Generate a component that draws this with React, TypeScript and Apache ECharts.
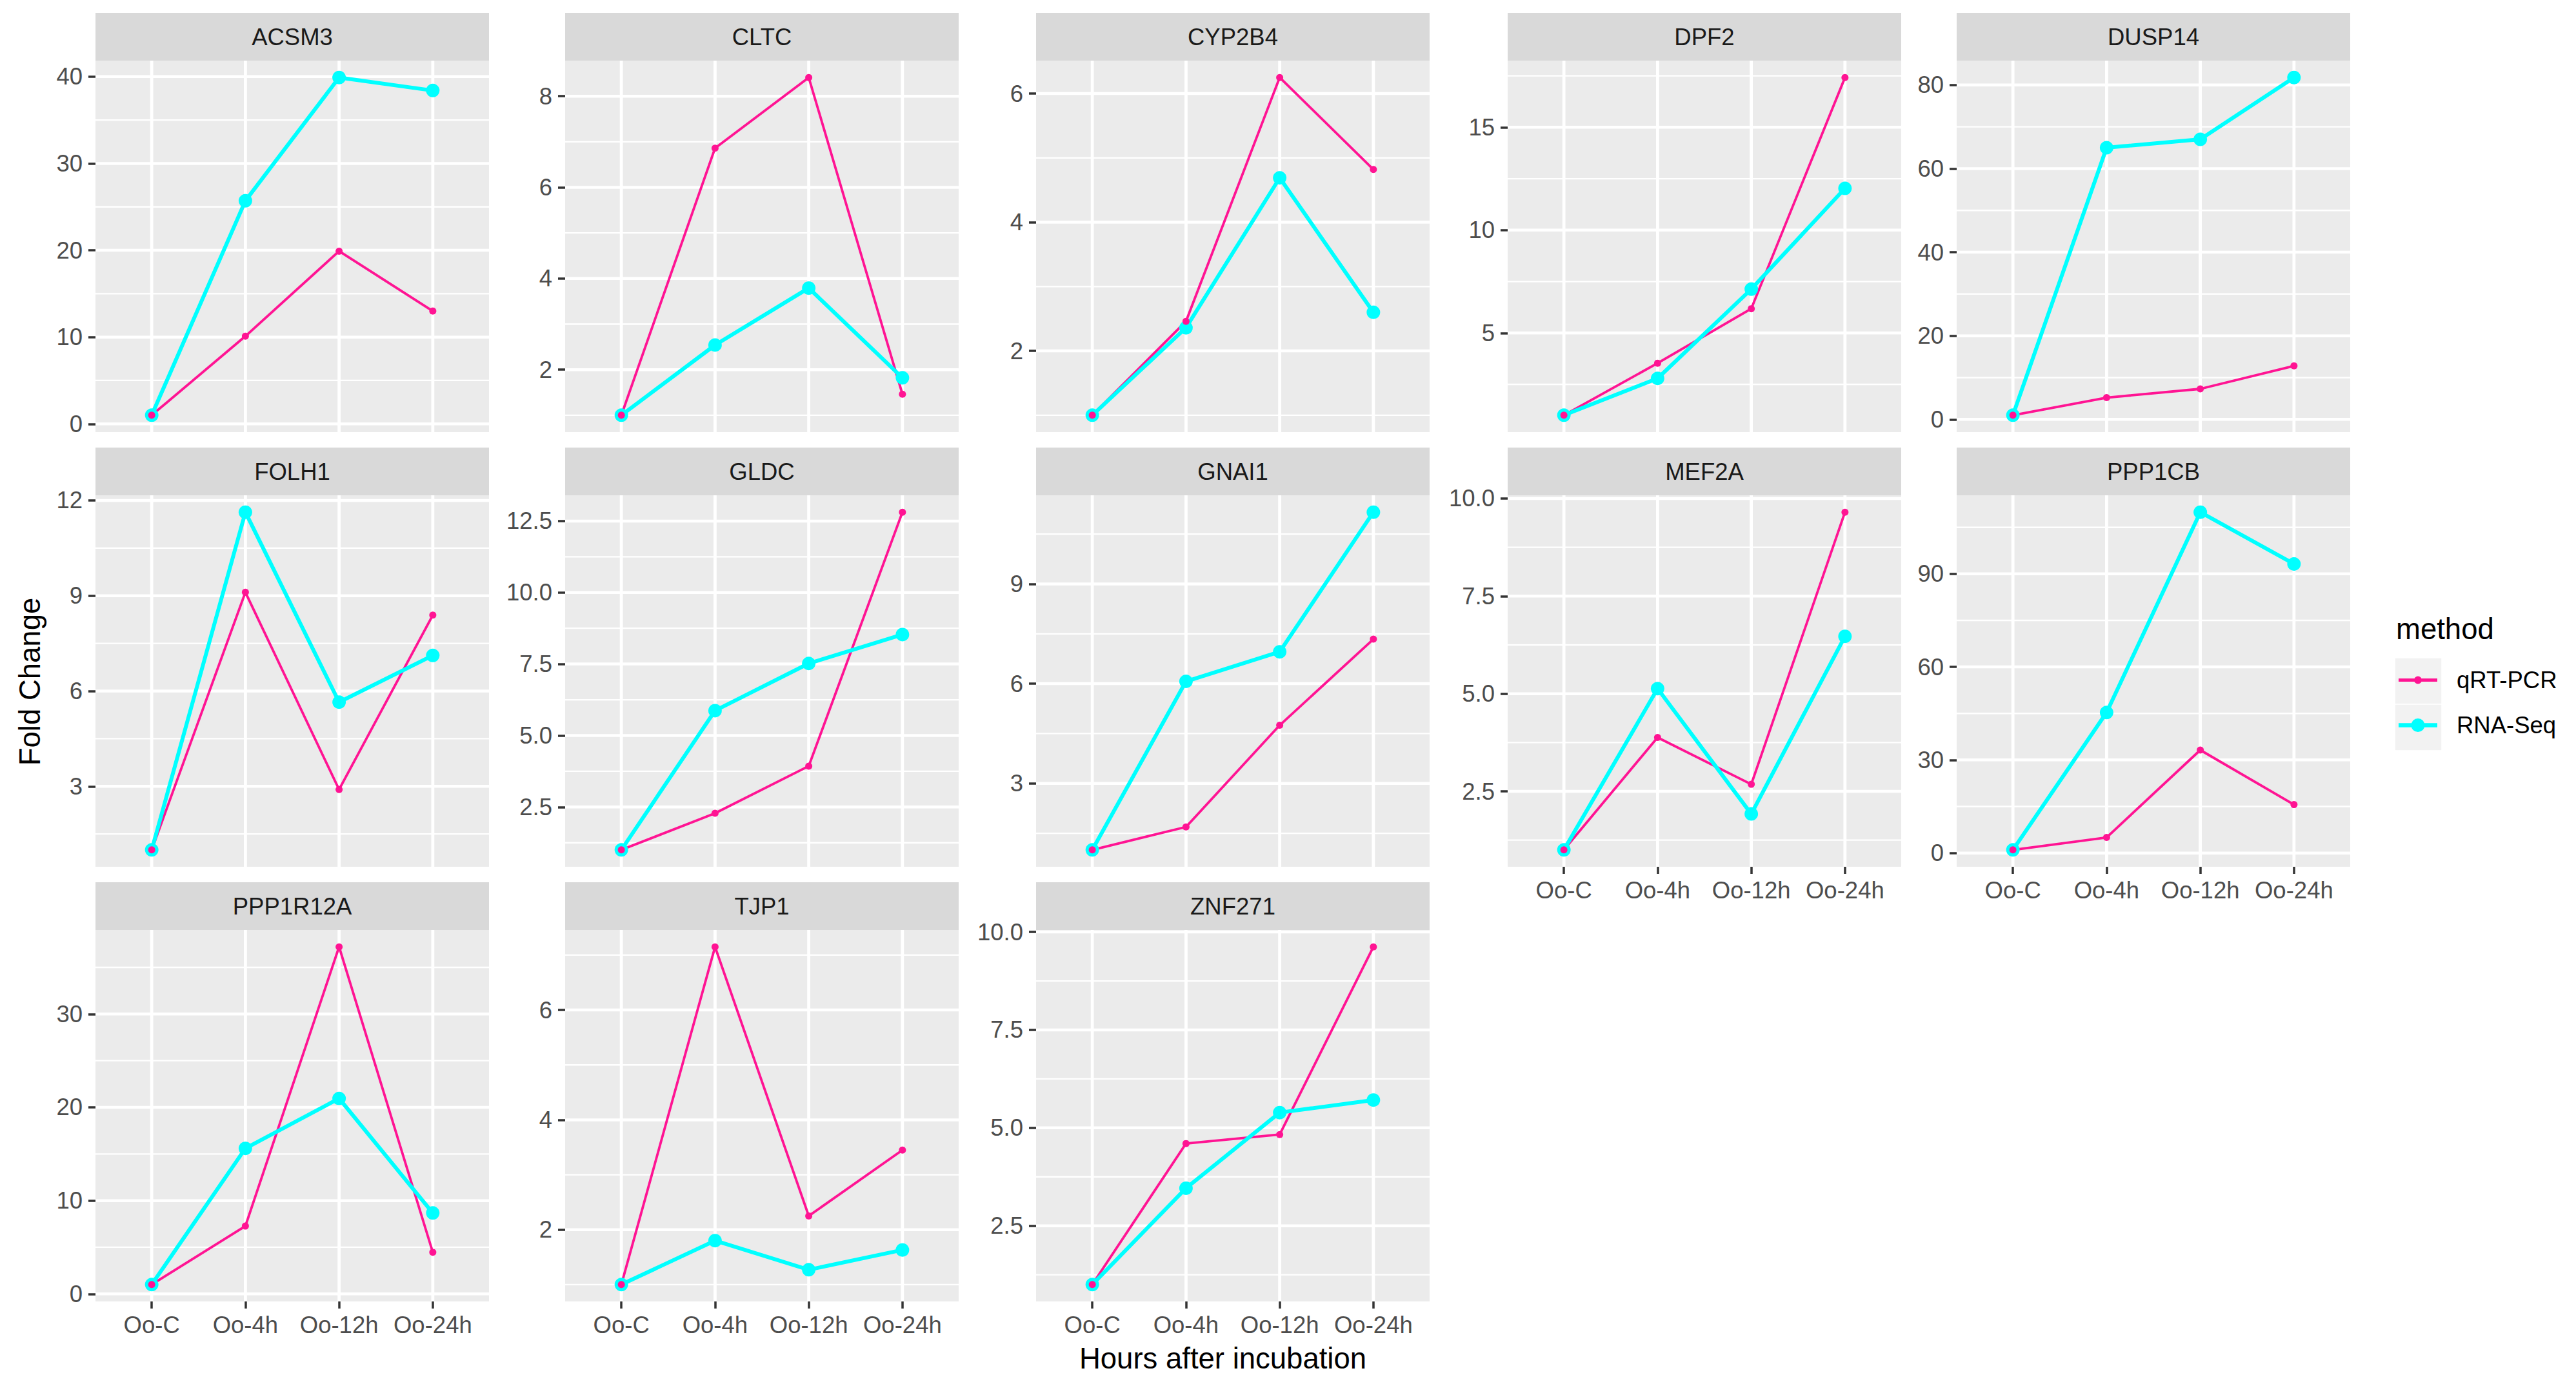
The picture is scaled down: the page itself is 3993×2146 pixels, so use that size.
import React, { useEffect, useRef } from 'react';
import * as echarts from 'echarts';

// ---------------- data ----------------
const timePoints = ['Oo-C', 'Oo-4h', 'Oo-12h', 'Oo-24h'];
const methods = ['qRT-PCR', 'RNA-Seq'];
const genes = ['ACSM3', 'CLTC', 'CYP2B4', 'DPF2', 'DUSP14', 'FOLH1', 'GLDC', 'GNAI1', 'MEF2A', 'PPP1CB', 'PPP1R12A', 'TJP1', 'ZNF271'];

const qrtPcrValues = [
  [1, 10.1, 19.9, 13.0],
  [1, 6.86, 8.41, 1.46],
  [1, 2.46, 6.25, 4.82],
  [1, 3.53, 6.18, 17.42],
  [1, 5.2, 7.3, 12.8],
  [1, 9.11, 2.9, 8.39],
  [1, 2.28, 3.93, 12.81],
  [1, 1.69, 4.75, 7.34],
  [1, 3.88, 2.68, 9.65],
  [1, 5.0, 33.2, 15.6],
  [1, 7.27, 37.2, 4.46],
  [1, 7.15, 2.25, 3.45],
  [1, 4.6, 4.83, 9.62],
];

const rnaSeqValues = [
  [1, 25.7, 39.9, 38.4],
  [1, 2.54, 3.79, 1.82],
  [1, 2.36, 4.69, 2.6],
  [1, 2.79, 7.13, 12.03],
  [1, 65.0, 67.0, 81.8],
  [1, 11.63, 5.65, 7.12],
  [1, 5.87, 7.52, 8.53],
  [1, 6.07, 6.96, 11.16],
  [1, 5.13, 1.92, 6.47],
  [1, 45.3, 109.9, 93.2],
  [1, 15.6, 20.95, 8.67],
  [1, 1.8, 1.27, 1.63],
  [1, 3.46, 5.39, 5.71],
];

const yBreaks = [
  [0, 10, 20, 30, 40],
  [2, 4, 6, 8],
  [2, 4, 6],
  [5, 10, 15],
  [0, 20, 40, 60, 80],
  [3, 6, 9, 12],
  [2.5, 5, 7.5, 10, 12.5],
  [3, 6, 9],
  [2.5, 5, 7.5, 10],
  [0, 30, 60, 90],
  [0, 10, 20, 30],
  [2, 4, 6],
  [2.5, 5, 7.5, 10],
];

const xTitle = 'Hours after incubation';
const yTitle = 'Fold Change';
const legendTitle = 'method';

// ---------------- layout / style ----------------
const W = 3993;
const H = 2146;
const FONT = "'Liberation Sans', Arial, Helvetica, sans-serif";
const COL_LEFT = [148, 876, 1606, 2337, 3033];
const ROW_TOP = [20, 694, 1368];
const STRIP_H = 74;
const PANEL_W = 610;
const PANEL_H = 576;
const X_MIN = -0.6;
const X_MAX = 3.6;
const PINK = '#FF1493';
const CYAN = '#00FFFF';
const TICK_FS = 36.5;
const TITLE_FS = 45.5;

function yRange(i: number): [number, number] {
  const all = [...qrtPcrValues[i], ...rnaSeqValues[i]];
  const lo = Math.min(...all);
  const hi = Math.max(...all);
  const pad = (hi - lo) * 0.05;
  return [lo - pad, hi + pad];
}

function minorBreaks(b: number[], lo: number, hi: number): number[] {
  const step = b[1] - b[0];
  const res: number[] = [];
  for (let k = -1; k < b.length; k++) {
    const v = b[0] + step * (k + 0.5);
    if (v > lo && v < hi) res.push(v);
  }
  return res;
}

function buildOption() {
  const grid: any[] = [];
  const xAxis: any[] = [];
  const yAxis: any[] = [];
  const series: any[] = [];
  const graphic: any[] = [];

  genes.forEach((gene, i) => {
    const row = Math.floor(i / 5);
    const col = i % 5;
    const left = COL_LEFT[col];
    const stripTop = ROW_TOP[row];
    const top = stripTop + STRIP_H;
    const showX = i >= genes.length - 5;
    const [lo, hi] = yRange(i);
    const breaks = yBreaks[i];
    const decimals = breaks.some((b) => Math.round(b) !== b) ? 1 : 0;

    grid.push({
      left,
      top,
      width: PANEL_W,
      height: PANEL_H,
      show: true,
      backgroundColor: '#EBEBEB',
      borderWidth: 0,
    });

    xAxis.push({
      type: 'value',
      gridIndex: i,
      min: X_MIN,
      max: X_MAX,
      axisLine: { show: false, onZero: false },
      splitLine: { show: false },
      axisTick: {
        show: showX,
        customValues: [0, 1, 2, 3],
        length: 11,
        lineStyle: { color: '#333333', width: 3.5 },
      },
      axisLabel: {
        show: showX,
        customValues: [0, 1, 2, 3],
        formatter: (v: number) => timePoints[Math.round(v)] ?? '',
        margin: 18,
        fontSize: TICK_FS,
        lineHeight: TICK_FS,
        color: '#4D4D4D',
        fontFamily: FONT,
      },
    });

    yAxis.push({
      type: 'value',
      gridIndex: i,
      min: lo,
      max: hi,
      axisLine: { show: false, onZero: false },
      splitLine: { show: false },
      axisTick: {
        show: true,
        customValues: breaks,
        length: 11,
        lineStyle: { color: '#333333', width: 3.5 },
      },
      axisLabel: {
        show: true,
        customValues: breaks,
        formatter: (v: number) => v.toFixed(decimals),
        margin: 20,
        fontSize: TICK_FS,
        color: '#4D4D4D',
        fontFamily: FONT,
      },
    });

    // panel grid lines (drawn through the axes' scales)
    const gridLines: number[][] = [];
    minorBreaks(breaks, lo, hi).forEach((v) => gridLines.push([0, v, 2.3]));
    breaks.forEach((v) => gridLines.push([0, v, 4.5]));
    timePoints.forEach((_, k) => gridLines.push([1, k, 4.8]));

    series.push({
      type: 'custom',
      name: '_grid' + i,
      xAxisIndex: i,
      yAxisIndex: i,
      z: 1,
      silent: true,
      data: gridLines,
      renderItem: (_params: any, api: any) => {
        const o = api.value(0);
        const v = api.value(1);
        const w = api.value(2);
        let p1;
        let p2;
        if (o === 0) {
          p1 = api.coord([X_MIN, v]);
          p2 = api.coord([X_MAX, v]);
        } else {
          p1 = api.coord([v, lo]);
          p2 = api.coord([v, hi]);
        }
        return {
          type: 'line',
          shape: { x1: p1[0], y1: p1[1], x2: p2[0], y2: p2[1] },
          style: { stroke: '#FFFFFF', lineWidth: w },
        };
      },
    });

    const pinkData = qrtPcrValues[i].map((v, k) => [k, v]);
    const cyanData = rnaSeqValues[i].map((v, k) => [k, v]);

    series.push({
      type: 'line',
      name: methods[0],
      xAxisIndex: i,
      yAxisIndex: i,
      data: pinkData,
      showSymbol: false,
      symbol: 'none',
      z: 2,
      lineStyle: { color: PINK, width: 3.8 },
      itemStyle: { color: PINK },
    });
    series.push({
      type: 'line',
      name: methods[1],
      xAxisIndex: i,
      yAxisIndex: i,
      data: cyanData,
      showSymbol: false,
      symbol: 'none',
      z: 2,
      lineStyle: { color: CYAN, width: 6 },
      itemStyle: { color: CYAN },
    });
    series.push({
      type: 'scatter',
      name: methods[1],
      xAxisIndex: i,
      yAxisIndex: i,
      data: cyanData,
      symbol: 'circle',
      symbolSize: 21,
      z: 3,
      itemStyle: { color: CYAN, opacity: 1 },
    });
    series.push({
      type: 'scatter',
      name: methods[0],
      xAxisIndex: i,
      yAxisIndex: i,
      data: pinkData,
      symbol: 'circle',
      symbolSize: 11,
      z: 3,
      itemStyle: { color: PINK, opacity: 1 },
    });

    // facet strip
    graphic.push({
      type: 'rect',
      shape: { x: left, y: stripTop, width: PANEL_W, height: STRIP_H },
      style: { fill: '#D9D9D9' },
      silent: true,
    });
    graphic.push({
      type: 'text',
      x: left + PANEL_W / 2,
      y: stripTop + STRIP_H / 2,
      silent: true,
      style: {
        text: gene,
        fill: '#1A1A1A',
        fontSize: TICK_FS,
        fontFamily: FONT,
        align: 'center',
        verticalAlign: 'middle',
        textAlign: 'center',
        textVerticalAlign: 'middle',
      },
    });
  });

  // axis titles
  graphic.push({
    type: 'text',
    x: (COL_LEFT[0] + COL_LEFT[4] + PANEL_W) / 2,
    y: 2106,
    silent: true,
    style: {
      text: xTitle,
      fill: '#000000',
      fontSize: TITLE_FS,
      fontFamily: FONT,
      align: 'center',
      verticalAlign: 'middle',
      textAlign: 'center',
      textVerticalAlign: 'middle',
    },
  });
  graphic.push({
    type: 'text',
    x: 46,
    y: 1057,
    rotation: Math.PI / 2,
    silent: true,
    style: {
      text: yTitle,
      fill: '#000000',
      fontSize: TITLE_FS,
      fontFamily: FONT,
      align: 'center',
      verticalAlign: 'middle',
      textAlign: 'center',
      textVerticalAlign: 'middle',
    },
  });

  // legend title and key backgrounds
  graphic.push({
    type: 'text',
    x: 3714,
    y: 975,
    silent: true,
    style: {
      text: legendTitle,
      fill: '#000000',
      fontSize: TITLE_FS,
      fontFamily: FONT,
      align: 'left',
      verticalAlign: 'middle',
      textAlign: 'left',
      textVerticalAlign: 'middle',
    },
  });
  graphic.push({
    type: 'rect',
    shape: { x: 3712, y: 1020, width: 73, height: 72 },
    style: { fill: '#F2F2F2', stroke: '#FFFFFF', lineWidth: 1.5 },
    silent: true,
  });
  graphic.push({
    type: 'rect',
    shape: { x: 3712, y: 1092, width: 73, height: 72 },
    style: { fill: '#F2F2F2', stroke: '#FFFFFF', lineWidth: 1.5 },
    silent: true,
  });

  const pinkIcon = 'path://M0 8.5H60V13.5H0Z M30 5A6 6 0 1 1 30 17A6 6 0 1 1 30 5Z';
  const cyanIcon = 'path://M0 7.75H60V14.25H0Z M30 0.5A10.5 10.5 0 1 1 30 21.5A10.5 10.5 0 1 1 30 0.5Z';

  return {
    animation: false,
    backgroundColor: '#FFFFFF',
    textStyle: { fontFamily: FONT },
    grid,
    xAxis,
    yAxis,
    series,
    graphic,
    legend: {
      data: [
        { name: methods[0], icon: pinkIcon },
        { name: methods[1], icon: cyanIcon },
      ],
      orient: 'vertical',
      left: 3718,
      top: 1036,
      itemWidth: 60,
      itemHeight: 22,
      itemGap: 33,
      padding: 0,
      selectedMode: false,
      formatter: (name: string) => `{t|${name}}`,
      textStyle: {
        fontSize: TICK_FS,
        color: '#000000',
        fontFamily: FONT,
        rich: {
          t: {
            fontSize: TICK_FS,
            color: '#000000',
            fontFamily: FONT,
            padding: [0, 0, 0, 25],
          },
        },
      },
    },
  };
}

export default function App() {
  const ref = useRef<HTMLDivElement>(null);
  useEffect(() => {
    if (!ref.current) return;
    const chart = echarts.init(ref.current, null, { renderer: 'svg', width: W, height: H });
    chart.setOption(buildOption() as any);
    return () => chart.dispose();
  }, []);
  return (
    <div
      ref={ref}
      style={{ position: 'absolute', left: 0, top: 0, width: W, height: H, background: '#fff' }}
    />
  );
}
